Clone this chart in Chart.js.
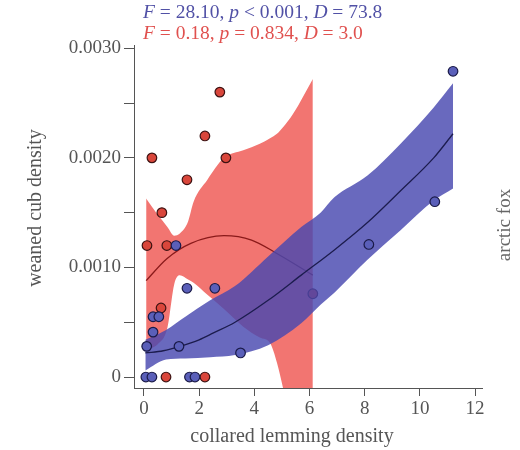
<!DOCTYPE html>
<html>
<head>
<meta charset="utf-8">
<script src="https://cdn.jsdelivr.net/npm/chart.js@4.4.1/dist/chart.umd.min.js"></script>
<style>
  html, body { margin: 0; padding: 0; background: #ffffff; }
  #wrap { width: 520px; height: 450px; }
</style>
</head>
<body>
<div id="wrap"><canvas id="c" width="520" height="450"></canvas></div>
<script>
// ---- data ----
const xTicks = [0, 2, 4, 6, 8, 10, 12];
const yTicks = [0, 0.0005, 0.001, 0.0015, 0.002, 0.0025, 0.003];
const yTickLabels = ['0', '', '0.0010', '', '0.0020', '', '0.0030'];

// red (2nd group) confidence band
const redBandX     = [0.08, 0.5, 0.85, 1.1, 1.3, 1.6, 1.8, 2.3, 2.9, 3.6, 4.2, 4.57, 4.82, 5.04, 5.4, 6.12];
const redBandUpper = [0.00163, 0.00148, 0.00137, 0.00129, 0.00131, 0.00142, 0.00160, 0.00180, 0.00200, 0.00207, 0.00213, 0.00218, 0.00222, 0.00228, 0.00240, 0.00272];
const redBandLower = [0.00025, 0.00030, 0.00045, 0.00085, 0.00093, 0.00089, 0.00086, 0.00075, 0.00062, 0.00046, 0.00036, 0.00031, 0.00013, -0.00010, -0.00050, -0.00120];
// red fitted curve
const redFitX = [0.08, 0.83, 1.7, 2.9, 3.9, 4.8, 6.12];
const redFitY = [0.00088, 0.00108, 0.00122, 0.00129, 0.00125, 0.00113, 0.00093];
// red observations
const redPtsX = [0.11, 0.29, 0.65, 0.83, 0.62, 1.56, 2.21, 2.75, 2.97, 0.80, 2.21, 6.12];
const redPtsY = [0.0012, 0.0020, 0.0015, 0.0012, 0.00063, 0.0018, 0.0022, 0.0026, 0.0020, 0, 0, 0.00076];

// blue (1st group) confidence band
const blueBandX     = [0.05, 0.8, 1.5, 2.4, 3.3, 4.5, 5.7, 6.4, 6.9, 8.1, 9.3, 10.5, 11.2];
const blueBandUpper = [0.00034, 0.00043, 0.00055, 0.00070, 0.00083, 0.00110, 0.00137, 0.00150, 0.00164, 0.00184, 0.00213, 0.00246, 0.00268];
const blueBandLower = [0.00006, 0.00016, 0.00017, 0.00018, 0.00020, 0.00029, 0.00049, 0.00066, 0.00077, 0.00107, 0.00134, 0.00161, 0.00172];
// blue fitted curve
const blueFitX = [0.05, 0.7, 1.3, 2.0, 2.5, 3.3, 4.5, 5.7, 6.9, 8.1, 9.3, 10.5, 11.2];
const blueFitY = [0.00022, 0.00024, 0.00028, 0.00034, 0.00040, 0.00050, 0.00070, 0.00093, 0.00116, 0.00141, 0.00170, 0.00200, 0.00222];
// blue observations
const bluePtsX = [0.07, 0.29, 1.65, 1.85, 0.10, 0.33, 0.33, 0.54, 1.27, 1.16, 1.56, 2.57, 3.50, 8.15, 10.54, 11.20];
const bluePtsY = [0, 0, 0, 0, 0.00028, 0.00041, 0.00055, 0.00055, 0.00028, 0.0012, 0.00081, 0.00081, 0.00022, 0.00121, 0.0016, 0.00279];

// ---- build library structures ----
const zip = (xs, ys) => xs.map((x, i) => ({ x: x, y: ys[i] }));

const RED_BAND = '#f27571';
const BLUE_BAND = 'rgba(72,72,176,0.82)';
const SERIF = '"Liberation Serif", "DejaVu Serif", serif';
const TXT = '#555555';

const bandStyle = {
  type: 'line', showLine: true, pointRadius: 0, borderWidth: 0,
  borderColor: 'rgba(0,0,0,0)', cubicInterpolationMode: 'monotone'
};

const datasets = [
  Object.assign({}, bandStyle, { data: zip(redBandX, redBandUpper), fill: 1, backgroundColor: RED_BAND, order: 8 }),
  Object.assign({}, bandStyle, { data: zip(redBandX, redBandLower), fill: false, order: 8 }),
  { type: 'line', data: zip(redFitX, redFitY), showLine: true, pointRadius: 0, borderWidth: 1.3,
    borderColor: '#8a1a1a', fill: false, cubicInterpolationMode: 'monotone', order: 7 },
  { type: 'scatter', data: zip(redPtsX, redPtsY), pointRadius: 4.8, borderWidth: 1.2,
    backgroundColor: '#d9463b', borderColor: '#3d1212', order: 6 },
  Object.assign({}, bandStyle, { data: zip(blueBandX, blueBandUpper), fill: 5, backgroundColor: BLUE_BAND, order: 5 }),
  Object.assign({}, bandStyle, { data: zip(blueBandX, blueBandLower), fill: false, order: 5 }),
  { type: 'line', data: zip(blueFitX, blueFitY), showLine: true, pointRadius: 0, borderWidth: 1.3,
    borderColor: '#1c1c4e', fill: false, cubicInterpolationMode: 'monotone', order: 4 },
  { type: 'scatter', data: zip(bluePtsX, bluePtsY), pointRadius: 4.8, borderWidth: 1.2,
    backgroundColor: '#5a5fb9', borderColor: '#1a1a48', order: 3 }
];

// text drawn on the canvas
const titleBlue = [['F', true], [' = 28.10, ', false], ['p', true], [' < 0.001, ', false], ['D', true], [' = 73.8', false]];
const titleRed  = [['F', true], [' = 0.18, ', false], ['p', true], [' = 0.834, ', false], ['D', true], [' = 3.0', false]];

function drawRuns(ctx, runs, x, y, color, size) {
  ctx.fillStyle = color;
  ctx.textBaseline = 'middle';
  ctx.textAlign = 'left';
  let cx = x;
  runs.forEach(r => {
    ctx.font = (r[1] ? 'italic ' : '') + size + 'px ' + SERIF;
    ctx.fillText(r[0], cx, y);
    cx += ctx.measureText(r[0]).width;
  });
}

const textPlugin = {
  id: 'texts',
  afterDraw(chart) {
    const ctx = chart.ctx;
    ctx.save();
    drawRuns(ctx, titleBlue, 143, 13, '#5151a6', 19.5);
    drawRuns(ctx, titleRed, 143, 34, '#e0504e', 19.5);
    ctx.fillStyle = TXT;
    ctx.textAlign = 'center';
    ctx.textBaseline = 'middle';
    ctx.font = '20px ' + SERIF;
    ctx.fillText('collared lemming density', 292, 437);
    ctx.save();
    ctx.translate(36, 208);
    ctx.rotate(-Math.PI / 2);
    ctx.fillText('weaned cub density', 0, 0);
    ctx.restore();
    ctx.save();
    ctx.fillStyle = '#666666';
    ctx.font = '19px ' + SERIF;
    ctx.translate(505, 225);
    ctx.rotate(-Math.PI / 2);
    ctx.fillText('arctic fox', 0, 0);
    ctx.restore();
    ctx.restore();
  }
};

new Chart(document.getElementById('c'), {
  type: 'scatter',
  data: { datasets: datasets },
  options: {
    responsive: false,
    animation: false,
    devicePixelRatio: 1,
    layout: { padding: { left: 0, right: 38, top: 45, bottom: 0 } },
    plugins: { legend: { display: false }, tooltip: { enabled: false } },
    scales: {
      x: {
        type: 'linear', min: -0.36, max: 12.25,
        afterBuildTicks: s => { s.ticks = xTicks.map(v => ({ value: v })); },
        afterFit: s => { s.height = 62; },
        grid: { drawOnChartArea: false, drawTicks: true, tickLength: 8, color: '#555555', lineWidth: 1 },
        border: { display: true, color: '#555555', width: 1 },
        ticks: { color: TXT, font: { family: SERIF, size: 19 }, padding: 2, maxRotation: 0,
                 callback: v => String(v) }
      },
      y: {
        type: 'linear', min: -0.0001, max: 0.00303,
        afterBuildTicks: s => { s.ticks = yTicks.map(v => ({ value: v })); },
        afterFit: s => { s.width = 134; },
        grid: { drawOnChartArea: false, drawTicks: true, tickLength: 10, color: '#555555', lineWidth: 1 },
        border: { display: true, color: '#555555', width: 1 },
        ticks: { color: TXT, font: { family: SERIF, size: 19 }, padding: 3,
                 callback: (v, i) => yTickLabels[i] }
      }
    }
  },
  plugins: [textPlugin]
});
</script>
</body>
</html>
